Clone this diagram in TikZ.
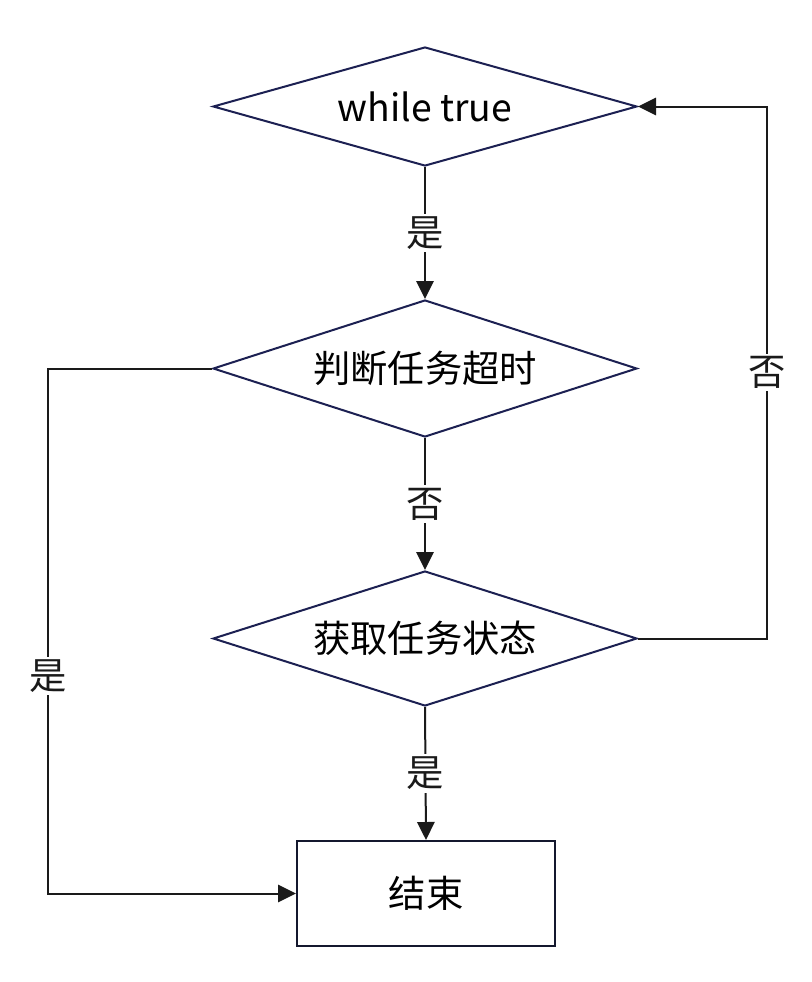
\documentclass[tikz,border=0pt]{standalone}
\usepackage{fontspec}
\setmainfont{Noto Sans CJK SC}
\usetikzlibrary{shapes.geometric,arrows.meta,positioning}
\definecolor{shapenavy}{HTML}{1C2052}
\definecolor{boxnavy}{HTML}{14182E}
\definecolor{linegray}{HTML}{1A1A1A}
\tikzset{
    >={Triangle[length=13.5pt,width=13pt]},
    decision/.style={
        diamond,
        draw=shapenavy,
        line width=1.5pt,
        aspect=3.5,
        inner sep=0pt,
        minimum width=318pt,
        text centered
    },
    endbox/.style={
        rectangle,
        draw=boxnavy,
        line width=1.5pt,
        minimum width=193.5pt,
        minimum height=78.75pt,
        text centered
    },
    line/.style={draw=linegray, line width=1.5pt, ->},
    lbl/.style={fill=white, inner sep=2pt, text=linegray},
    font={\fontsize{28pt}{32pt}\selectfont},
}
\begin{document}
\begin{tikzpicture}[x=0.75pt,y=-0.75pt]
\useasboundingbox[fill=white] (0,0) rectangle (812,982);

\node[decision,minimum height=89.25pt] (loop) at (425,106.5) {while true};
\node[decision,minimum height=102.75pt] (timeout) at (425,368.5) {判断任务超时};
\node[decision,minimum height=101.25pt] (state) at (425,638.5) {获取任务状态};
\node[endbox] (end) at (426,893.5) {结束};

\coordinate (lx) at (48,0);
\coordinate (rx) at (767,0);

\draw[line] (loop.south) -- node[lbl]{是} (timeout.north);
\draw[line] (timeout.south) -- node[lbl]{否} (state.north);
\draw[line] (state.south) -- node[lbl]{是} (end.north);

\draw[line] (timeout.west) -- (timeout.west -| lx)
    -- node[lbl,pos=0.586]{是} (end.west -| lx) -- (end.west);
\draw[line] (state.east) -- (state.east -| rx)
    -- node[lbl]{否} (loop.east -| rx) -- (loop.east);
\end{tikzpicture}
\end{document}
